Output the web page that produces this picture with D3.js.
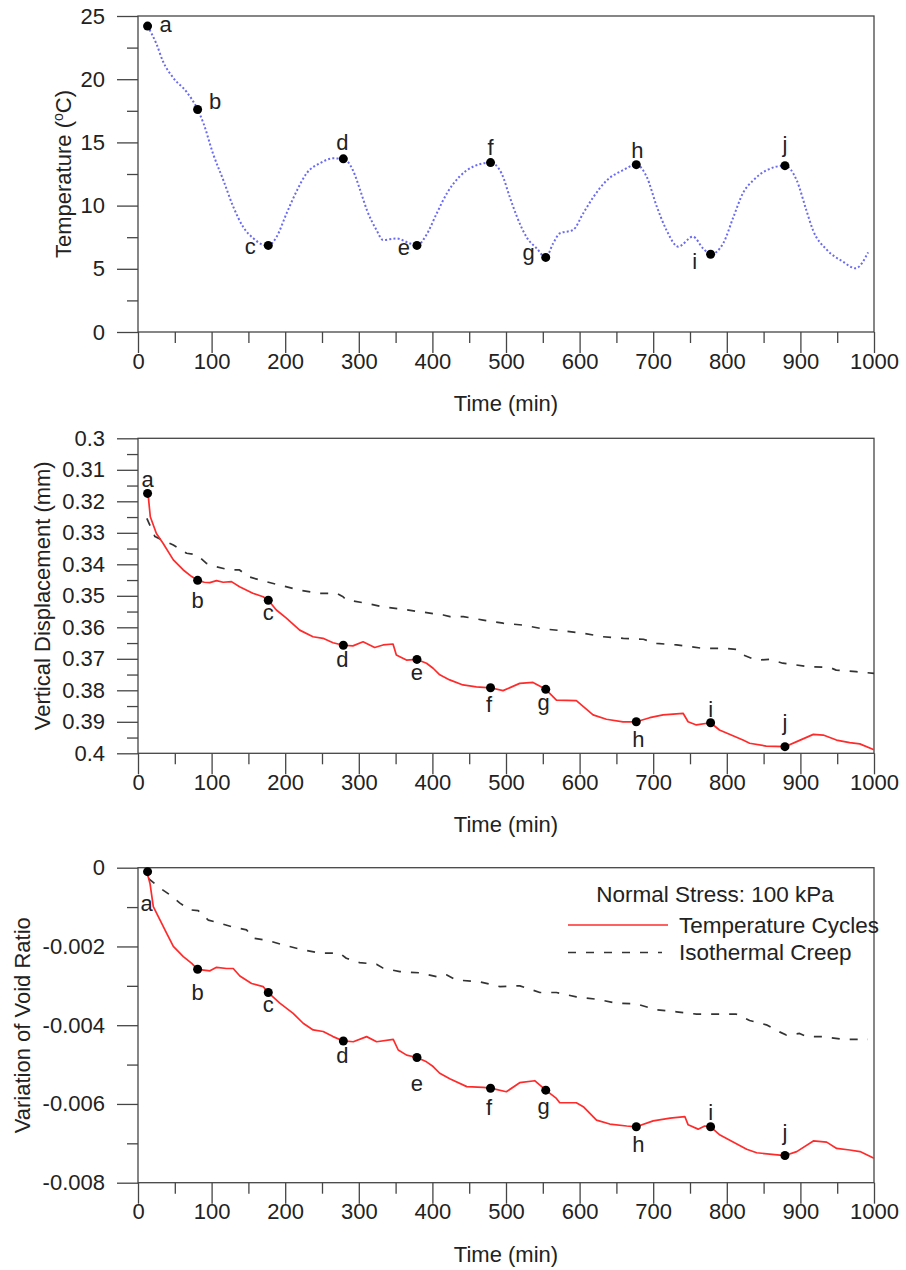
<!DOCTYPE html>
<html>
<head>
<meta charset="utf-8">
<script src="https://cdn.jsdelivr.net/npm/d3@7"></script>
<style>
  html, body { margin: 0; padding: 0; background: #fff; }
  svg { display: block; font-family: "Liberation Sans", Arial, Helvetica, sans-serif; }
</style>
</head>
<body>
<script>
// ---- data -------------------------------------------------------------
const timeTicks = [0, 100, 200, 300, 400, 500, 600, 700, 800, 900, 1000];
const tempTicks = [0, 5, 10, 15, 20, 25];
const dispTicks = [0.30, 0.31, 0.32, 0.33, 0.34, 0.35, 0.36, 0.37, 0.38, 0.39, 0.40];
const voidTicks = [0, -0.002, -0.004, -0.006, -0.008];

const stageLetters = ["a", "b", "c", "d", "e", "f", "g", "h", "i", "j"];
const stageTimes = [13, 81, 177, 279, 379, 479, 554, 677, 778, 879];
const stageTemp = [24.2, 17.6, 6.85, 13.7, 6.85, 13.4, 5.9, 13.24, 6.15, 13.16];
const stageDisp = [0.3175, 0.3451, 0.3514, 0.3657, 0.3702, 0.3792, 0.3797, 0.3900, 0.3903, 0.3979];
const stageVoid = [-0.0001, -0.00258, -0.00317, -0.0044, -0.00482, -0.0056, -0.00565, -0.00658, -0.00658, -0.00731];

// temperature (°C) vs time (min)
const temperature = [
  [13, 24.2], [25, 22.8], [34, 21.4], [48, 20.1], [66, 19.0], [81, 17.6], [89, 16.5],
  [102, 14.1], [116, 12.0], [129.5, 9.9], [143, 8.3], [157, 7.4], [170, 6.9], [177, 6.85],
  [188, 7.5], [202, 9.4], [216, 11.2], [229, 12.55], [247, 13.35], [265, 13.74], [279, 13.7],
  [292, 12.8], [302, 11.2], [311, 9.65], [324, 8.07], [333, 7.28], [351, 7.4], [370, 7.0],
  [379, 6.85], [392, 7.7], [406, 9.4], [421, 11.1], [437, 12.3], [456, 13.1], [479, 13.4],
  [494, 12.55], [505, 10.7], [515, 9.1], [528, 7.5], [542, 6.6], [554, 5.9], [564, 7.0],
  [573, 7.8], [591, 8.07], [605, 9.4], [619, 10.7], [637, 12.0], [659, 12.8], [677, 13.24],
  [691, 12.3], [705, 9.9], [718, 8.07], [734, 6.75], [754, 7.54], [768, 6.6], [778, 6.15],
  [795, 7.0], [809, 9.1], [822, 11.0], [836, 12.0], [854, 12.8], [879, 13.16], [895, 12.0],
  [908, 9.65], [917, 8.07], [936, 6.5], [958, 5.56], [975, 5.04], [992, 6.3]
];

// vertical displacement (mm), temperature cycles
const dispCycles = [
  [13.6, 0.3175], [16.7, 0.3249], [25, 0.3302], [34, 0.3333], [48, 0.3386], [61.5, 0.3418],
  [73, 0.3439], [81, 0.3451], [90, 0.3457], [97.6, 0.3458], [106.7, 0.3452], [115.7, 0.3457],
  [127, 0.3455], [138, 0.3471], [156, 0.3492], [170, 0.3503], [177, 0.3514], [188, 0.3545],
  [201.6, 0.3571], [219.7, 0.3609], [237.8, 0.363], [251.4, 0.3635], [265, 0.3649], [279, 0.3657],
  [292, 0.3659], [305.8, 0.3646], [321.6, 0.3664], [333, 0.3656], [346.5, 0.3653], [351, 0.3688],
  [364.7, 0.3704], [379, 0.3702], [392, 0.3714], [401, 0.373], [410, 0.3751], [423.5, 0.3767],
  [441.5, 0.3783], [459.7, 0.3789], [479, 0.3792], [496, 0.3801], [518.6, 0.3778], [536.7, 0.3775],
  [554, 0.3797], [568.5, 0.3831], [595.6, 0.3833], [618.3, 0.3878], [636.4, 0.3892], [659, 0.39],
  [677, 0.39], [695.3, 0.3887], [713.4, 0.3878], [740.6, 0.3873], [747.4, 0.39], [758.7, 0.391],
  [778, 0.3903], [790, 0.3926], [822, 0.3958], [831, 0.3968], [853.5, 0.3977], [879, 0.3979],
  [895, 0.3963], [917.6, 0.394], [931, 0.3942], [949, 0.3958], [967, 0.3966], [980.7, 0.397],
  [1000, 0.3989]
];

// vertical displacement (mm), isothermal creep
const dispCreep = [
  [12, 0.3254], [23, 0.3312], [48, 0.3339], [66, 0.3365], [80, 0.337], [93, 0.3397],
  [106.5, 0.3408], [124.6, 0.3418], [138, 0.3418], [149.6, 0.3439], [170, 0.3453], [192.7, 0.3466],
  [219.7, 0.3482], [247, 0.3492], [270, 0.3492], [278.6, 0.3503], [283, 0.3513], [306, 0.3522],
  [333, 0.3535], [360, 0.3543], [387.6, 0.3552], [414.8, 0.3561], [424, 0.3566], [442, 0.3566],
  [469, 0.3577], [496, 0.3587], [523, 0.3593], [550.6, 0.3605], [577.7, 0.3611], [605, 0.3619],
  [632, 0.363], [659.4, 0.3635], [686.6, 0.3638], [704.7, 0.3651], [731.8, 0.3656], [768, 0.3667],
  [800, 0.3667], [813, 0.367], [822.3, 0.3688], [840, 0.3704], [858, 0.3702], [876, 0.3714],
  [912, 0.3725], [939.5, 0.3727], [948.6, 0.3736], [975.7, 0.3741], [1000, 0.3746]
];

// variation of void ratio, temperature cycles
const voidCycles = [
  [12, -0.0001], [16.3, -0.0004], [20.8, -0.00099], [30, -0.00133], [39, -0.00167], [48, -0.002],
  [61.6, -0.00226], [73, -0.00243], [81, -0.00258], [97.8, -0.00262], [106.7, -0.00253],
  [120.3, -0.00256], [129.4, -0.00256], [138.4, -0.00275], [154.3, -0.00294], [170, -0.00302],
  [177, -0.00317], [192.7, -0.00344], [210.8, -0.0037], [224.4, -0.00395], [238, -0.00412],
  [251.6, -0.00416], [265, -0.00429], [279, -0.0044], [292.5, -0.00442], [310.6, -0.00429],
  [324.2, -0.00442], [346.8, -0.00436], [353.6, -0.00463], [365, -0.00476], [379, -0.00482],
  [392, -0.00493], [401, -0.00505], [410, -0.00522], [423.6, -0.00536], [446.7, -0.00556],
  [469, -0.00558], [479, -0.0056], [500.5, -0.00569], [518.6, -0.00546], [539, -0.00541],
  [554, -0.00565], [568.5, -0.00586], [573, -0.00597], [595.6, -0.00597], [605, -0.00607],
  [623, -0.00641], [641, -0.00651], [664, -0.00656], [677, -0.00658], [700, -0.00643],
  [723, -0.00636], [743, -0.00632], [747.5, -0.00653], [761, -0.00664], [770, -0.00656],
  [778, -0.00658], [790.8, -0.00679], [827, -0.00715], [840.6, -0.00724], [879, -0.00731],
  [895, -0.00721], [917.6, -0.00694], [935.7, -0.00697], [949.3, -0.00713], [967, -0.00717],
  [981, -0.00721], [1000, -0.00738]
];

// variation of void ratio, isothermal creep
const voidCreep = [
  [14, -0.00027], [30, -0.00052], [43.5, -0.00069], [57, -0.0009], [70.6, -0.00107],
  [81.8, -0.00109], [95.5, -0.00133], [111.3, -0.00141], [129.4, -0.00151], [147.6, -0.00158],
  [156.6, -0.00179], [174.7, -0.00184], [197.3, -0.00196], [220, -0.00207], [247, -0.00217],
  [274, -0.00217], [283, -0.0023], [301, -0.00241], [324, -0.00245], [333, -0.00255],
  [355.8, -0.00264], [383, -0.00267], [406, -0.00277], [419, -0.00272], [432, -0.00285],
  [464.7, -0.0029], [491.8, -0.00302], [518.8, -0.003], [546, -0.00317], [568.5, -0.00317],
  [595.6, -0.00328], [623, -0.00334], [650, -0.00344], [677.5, -0.00346], [704.7, -0.00361],
  [731.8, -0.00366], [759, -0.00372], [813, -0.00372], [831, -0.00388], [853.8, -0.00399],
  [871.7, -0.00417], [880.8, -0.00425], [898.9, -0.00421], [908, -0.00429], [930.6, -0.00429],
  [957.8, -0.00436], [991.7, -0.00436]
];

// ---- layout & style ---------------------------------------------------
const W = 906, H = 1270;
const left = 138, right = 874;
const axisColor = "#454545";
const textColor = "#222";
const fontSize = 22;
const red = "#ff2b2b";
const blue = "#6a6af2";

// vertical centre of each letter glyph relative to its baseline
const glyphLift = { a: 5.7, b: 7.9, c: 5.7, d: 7.9, e: 5.7, f: 7.9, g: 3.4, h: 7.9, i: 7.9, j: 5.6 };

const svg = d3.select("body").append("svg")
  .attr("width", W).attr("height", H);

const x = d3.scaleLinear().domain([0, 1000]).range([left, right]);

function midpoints(arr) {
  const out = [];
  for (let k = 0; k < arr.length - 1; k++) out.push((arr[k] + arr[k + 1]) / 2);
  return out;
}

function drawPanel(cfg) {
  const g = svg.append("g");
  const y = d3.scaleLinear().domain(cfg.domain).range([cfg.bottom, cfg.top]);

  // x axis: major + minor ticks
  const xMajor = g.append("g").attr("transform", `translate(0,${cfg.bottom})`)
    .call(d3.axisBottom(x).tickValues(timeTicks).tickSize(21).tickPadding(16.5).tickFormat(d3.format("d")));
  const xMinor = g.append("g").attr("transform", `translate(0,${cfg.bottom})`)
    .call(d3.axisBottom(x).tickValues(midpoints(timeTicks)).tickSize(11).tickFormat(""));

  // y axis: major + minor ticks
  const yMajor = g.append("g").attr("transform", `translate(${left},0)`)
    .call(d3.axisLeft(y).tickValues(cfg.ticks).tickSize(21).tickPadding(12).tickFormat(cfg.format));
  const yMinor = g.append("g").attr("transform", `translate(${left},0)`)
    .call(d3.axisLeft(y).tickValues(midpoints(cfg.ticks)).tickSize(11).tickFormat(""));

  [xMajor, xMinor, yMajor, yMinor].forEach(a => {
    a.select(".domain").remove();
    a.attr("color", axisColor).attr("font-family", null).attr("font-size", null);
    a.selectAll("line").attr("stroke-width", 1.3);
    a.selectAll("text").attr("fill", textColor).style("font-size", fontSize + "px");
  });
  xMajor.selectAll("text").attr("dy", null).attr("y", 36.5);

  // frame
  g.append("rect")
    .attr("x", left).attr("y", cfg.top)
    .attr("width", right - left).attr("height", cfg.bottom - cfg.top)
    .attr("fill", "none").attr("stroke", axisColor).attr("stroke-width", 1.3);

  // x title
  g.append("text")
    .attr("x", (left + right) / 2).attr("y", cfg.bottom + 79)
    .attr("text-anchor", "middle").attr("fill", textColor)
    .style("font-size", fontSize + "px")
    .text("Time (min)");

  // y title
  const yt = g.append("text")
    .attr("transform", `translate(${cfg.titleX},${(cfg.top + cfg.bottom) / 2}) rotate(-90)`)
    .attr("text-anchor", "middle").attr("fill", textColor)
    .style("font-size", fontSize + "px");
  cfg.title(yt);

  const line = d3.line().x(d => x(d[0])).y(d => y(d[1])).curve(cfg.curve || d3.curveLinear);

  cfg.series.forEach(s => {
    g.append("path")
      .datum(s.data)
      .attr("d", line)
      .attr("fill", "none")
      .attr("stroke", s.color)
      .attr("stroke-width", s.width)
      .attr("stroke-dasharray", s.dash || null)
      .attr("stroke-linecap", s.cap || "butt")
      .attr("stroke-linejoin", "round");
  });

  // stage markers and letters
  const pts = stageTimes.map((t, k) => ({ t, v: cfg.stages[k], L: stageLetters[k], o: cfg.offsets[k] }));
  g.selectAll("circle.stage").data(pts).join("circle")
    .attr("class", "stage")
    .attr("cx", d => x(d.t)).attr("cy", d => y(d.v)).attr("r", 4.5)
    .attr("fill", "#000");
  g.selectAll("text.stage").data(pts).join("text")
    .attr("class", "stage")
    .attr("x", d => x(d.t) + d.o[0])
    .attr("y", d => y(d.v) + d.o[1] + glyphLift[d.L])
    .attr("text-anchor", "middle").attr("fill", textColor)
    .style("font-size", fontSize + "px")
    .text(d => d.L);

  return g;
}

// ---- temperature panel ----
drawPanel({
  top: 16, bottom: 332,
  domain: [0, 25], ticks: tempTicks, format: d3.format("d"),
  titleX: 71,
  title: t => {
    t.append("tspan").text("Temperature (");
    t.append("tspan").attr("baseline-shift", "super").style("font-size", "14px").text("o");
    t.append("tspan").text("C)");
  },
  curve: d3.curveMonotoneX,
  series: [{ data: temperature, color: blue, width: 2, dash: "2,2.2" }],
  stages: stageTemp,
  offsets: [[18, 0], [17.5, -8], [-18, 3], [-1, -17], [-13, 4], [0, -16], [-17, -1], [1, -15], [-16, 7], [0, -19]]
});

// ---- vertical displacement panel ----
drawPanel({
  top: 438.3, bottom: 753.3,
  domain: [0.40, 0.30], ticks: dispTicks, format: d => String(+d.toFixed(2)),
  titleX: 50,
  title: t => t.text("Vertical Displacement (mm)"),
  series: [
    { data: dispCreep, color: "#333", width: 1.7, dash: "8,10" },
    { data: dispCycles, color: red, width: 1.7 }
  ],
  stages: stageDisp,
  offsets: [[0, -12.5], [0, 20], [0, 14], [-1, 14], [0, 15], [-1.5, 16], [-2, 17], [2, 17], [0, -14], [0, -22]]
});

// ---- void ratio panel ----
const bottomPanel = drawPanel({
  top: 867.7, bottom: 1182.7,
  domain: [-0.008, 0], ticks: voidTicks, format: d => d === 0 ? "0" : d.toFixed(3),
  titleX: 30,
  title: t => t.text("Variation of Void Ratio"),
  series: [
    { data: voidCreep, color: "#333", width: 1.7, dash: "8,10" },
    { data: voidCycles, color: red, width: 1.7 }
  ],
  stages: stageVoid,
  offsets: [[-1, 34], [0, 23], [0, 14], [-1, 14], [0, 28], [-1.5, 19], [-2, 20], [2, 17], [0, -15], [0, -21]]
});

// ---- legend ----
const lg = bottomPanel.append("g");
lg.append("text")
  .attr("x", 715).attr("y", 902)
  .attr("text-anchor", "middle").attr("fill", textColor)
  .style("font-size", "22.5px")
  .text("Normal Stress: 100 kPa");
const legendItems = [
  { label: "Temperature Cycles", color: red, dash: null, y: 925, x2: 668 },
  { label: "Isothermal Creep", color: "#333", dash: "8,10", y: 952.5, x2: 662 }
];
legendItems.forEach(it => {
  lg.append("line")
    .attr("x1", 568).attr("x2", it.x2).attr("y1", it.y).attr("y2", it.y)
    .attr("stroke", it.color).attr("stroke-width", 1.7)
    .attr("stroke-dasharray", it.dash);
  lg.append("text")
    .attr("x", 679).attr("y", it.y + 7.5)
    .attr("fill", textColor)
    .style("font-size", "22.5px")
    .text(it.label);
});
</script>
</body>
</html>
